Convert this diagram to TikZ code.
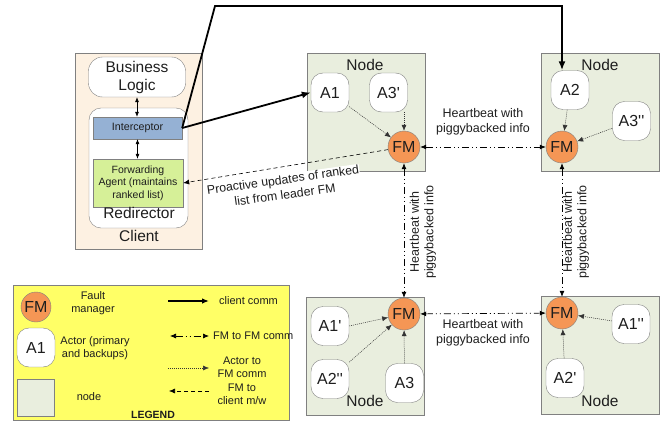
\documentclass[tikz,border=0pt]{standalone}
\usepackage{fontspec}
\setmainfont{Liberation Sans}
\newfontfamily\plainfont{Liberation Sans}
\usetikzlibrary{arrows.meta}
\definecolor{fmfill}{RGB}{245,150,85}
\definecolor{nodefill}{RGB}{233,238,222}
\definecolor{clientfill}{RGB}{253,241,226}
\definecolor{icptfill}{RGB}{149,177,212}
\definecolor{fwdfill}{RGB}{214,240,152}
\definecolor{legfill}{RGB}{255,255,102}
\definecolor{bordergray}{RGB}{128,128,128}
\definecolor{txt}{RGB}{30,30,30}
\tikzset{
  nodebox/.style={draw=bordergray, fill=nodefill, line width=0.8pt, minimum width=118pt, minimum height=118pt, inner sep=0pt},
  actor/.style={draw=bordergray, fill=white, rounded corners=12pt, minimum width=38pt, minimum height=39pt, inner sep=0pt, font=\plainfont\fontsize{16}{18}\selectfont, text=txt},
  fmgr/.style={circle, draw=bordergray, fill=fmfill, minimum size=32pt, inner sep=0pt, font=\fontsize{16}{18}\selectfont, text=txt},
  lbl/.style={text=txt, align=center, inner sep=1pt},
  big/.style={font=\fontsize{15.5}{17}\selectfont},
  leg/.style={font=\fontsize{11}{13}\selectfont},
  hb/.style={font=\fontsize{12.5}{14.5}\selectfont},
  clientcomm/.style={line width=1.8pt, -{Latex[length=9pt,width=7pt]}},
  fmcomm/.style={line width=0.7pt, {Latex[length=6pt,width=5pt]}-{Latex[length=6pt,width=5pt]}, dash pattern=on 7pt off 3pt on 1pt off 3pt on 1pt off 3pt},
  actcomm/.style={line width=0.5pt, draw=black!80, dash pattern=on 1pt off 1pt, -{Latex[length=6pt,width=5pt]}},
  fmclient/.style={line width=0.6pt, dash pattern=on 4pt off 3pt, -{Latex[length=6pt,width=5pt]}},
  blarrow/.style={line width=0.6pt, {Latex[length=5pt,width=4pt]}-{Latex[length=5pt,width=4pt]}},
}
\begin{document}
\begin{tikzpicture}[x=1pt,y=-1pt]
\useasboundingbox (0,0) rectangle (662,423);

% ---------------- Client ----------------
\node[draw=bordergray, fill=clientfill, line width=0.8pt, minimum width=127pt, minimum height=196pt, inner sep=0pt] (client) at (138.5,151) {};
\node[draw=bordergray, fill=white, rounded corners=14pt, minimum width=97pt, minimum height=40pt, inner sep=0pt, lbl, font=\fontsize{15.5}{18}\selectfont] (bl) at (137,77) {Business\\Logic};
\node[draw=bordergray, fill=white, rounded corners=12pt, minimum width=99pt, minimum height=120pt, inner sep=0pt] (redir) at (138.5,168) {};
\node[draw=bordergray, fill=icptfill, minimum width=89pt, minimum height=22pt, inner sep=0pt, lbl, font=\fontsize{10.7}{12}\selectfont] (icpt) at (137.5,128) {Interceptor};
\node[draw=bordergray, fill=fwdfill, minimum width=90pt, minimum height=48pt, inner sep=0pt, lbl, font=\fontsize{10.5}{12.5}\selectfont] (fwd) at (138,183) {Forwarding\\Agent (maintains\\ranked list)};
\node[lbl, big] (redirlbl) at (139,213) {Redirector};
\node[lbl, big] (clientlbl) at (139,236) {Client};
\draw[blarrow] (bl.south) -- (bl.south |- icpt.north);
\draw[blarrow] (icpt.south) -- (icpt.south |- fwd.north);

% ---------------- Nodes ----------------
\node[nodebox] (n1) at (366,112) {};
\node[nodebox] (n2) at (600.5,112) {};
\node[nodebox] (n3) at (365.5,356) {};
\node[nodebox] (n4) at (600.5,355) {};
\node[lbl, big] (n1lbl) at (365,65) {Node};
\node[lbl, big] (n2lbl) at (600,65) {Node};
\node[lbl, big] (n3lbl) at (365,401) {Node};
\node[lbl, big] (n4lbl) at (600,401) {Node};

\node[actor] (a1) at (330,92.5) {A1};
\node[actor] (a3p) at (388.5,92.5) {A3'};
\node[actor] (a2) at (570,90) {A2};
\node[actor] (a3pp) at (631.5,121) {A3''};
\node[actor] (a1p) at (330,326) {A1'};
\node[actor] (a2pp) at (330,379) {A2''};
\node[actor] (a3) at (404.5,383) {A3};
\node[actor] (a1pp) at (631,324) {A1''};
\node[actor] (a2p) at (565,378) {A2'};

\node[fmgr] (fm1) at (404,147) {FM};
\node[fmgr] (fm2) at (562,147) {FM};
\node[fmgr] (fm3) at (404,314) {FM};
\node[fmgr] (fm4) at (562,313) {FM};

% actor -> FM
\draw[actcomm] (a1) -- (fm1);
\draw[actcomm] (a3p.south -| fm1.north) -- (fm1.north);
\draw[actcomm] (a2) -- (fm2);
\draw[actcomm] (a3pp) -- (fm2);
\draw[actcomm] (a1p.east) -- (fm3);
\draw[actcomm] (a2pp) -- (fm3);
\draw[actcomm] (a3) -- (fm3);
\draw[actcomm] (a1pp) -- (fm4);
\draw[actcomm] (a2p) -- (fm4);

% FM <-> FM heartbeat
\draw[fmcomm] (fm1) -- (fm2);
\draw[fmcomm] (fm1) -- (fm3);
\draw[fmcomm] (fm2) -- (fm4);
\draw[fmcomm] (fm3) -- (fm4);
\node[lbl, hb] (hb12) at (483,122) {Heartbeat with\\piggybacked info};
\node[lbl, hb] (hb34) at (483,333) {Heartbeat with\\piggybacked info};
\node[lbl, hb, rotate=90] (hb13) at (423,232) {Heartbeat with\\piggybacked info};
\node[lbl, hb, rotate=90] (hb24) at (576,232) {Heartbeat with\\piggybacked info};

% FM -> client
\draw[fmclient] (fm1) -- (fwd.east);
\node[lbl, fill=white, font=\fontsize{12.3}{15}\selectfont, rotate=8, inner sep=0.5pt] (proact) at (284,187) {Proactive updates of ranked\\list from leader FM};

% client comm
\coordinate (tc1) at (215,6);
\coordinate (tc2) at (562,6);
\draw[clientcomm] (icpt.east) -- (a1.west);
\draw[clientcomm, line join=miter] (icpt.east) -- (tc1) -- (tc2) -- (tc2 |- a2.north);

% ---------------- Legend ----------------
\node[draw=bordergray, fill=legfill, line width=0.8pt, minimum width=276pt, minimum height=135pt, inner sep=0pt] (legend) at (151,352.5) {};
\node[fmgr, minimum size=30pt] (lfm) at (36,307) {FM};
\node[actor] (lact) at (36,347.5) {A1};
\node[draw=bordergray, fill=nodefill, line width=0.8pt, minimum width=37pt, minimum height=37pt, inner sep=0pt] (lnode) at (35.5,397.5) {};
\node[lbl, leg] (lfmtxt) at (93,303) {Fault\\manager};
\node[lbl, leg] (lacttxt) at (95,348) {Actor (primary\\and backups)};
\node[lbl, leg] (lnodetxt) at (89,397) {node};
\node[lbl, font=\bfseries\fontsize{10.5}{12}\selectfont] (legtitle) at (153,415) {LEGEND};

\coordinate (c1a) at (168,301);
\coordinate (c1b) at (209,301);
\coordinate (c2a) at (170,336);
\coordinate (c2b) at (209,336);
\coordinate (c3a) at (168,368);
\coordinate (c3b) at (209,368);
\coordinate (c4a) at (209,391);
\coordinate (c4b) at (169,391);
\draw[line width=1.3pt, -{Latex[length=7pt,width=5.5pt]}] (c1a) -- (c1b);
\draw[fmcomm] (c2a) -- (c2b);
\draw[actcomm] (c3a) -- (c3b);
\draw[fmclient] (c4a) -- (c4b);
\node[lbl, leg, anchor=west] (l1txt) at (218,301) {client comm};
\node[lbl, leg, anchor=west] (l2txt) at (212,336) {FM to FM comm};
\node[lbl, leg] (l3txt) at (242,367) {Actor to\\FM comm};
\node[lbl, leg] (l4txt) at (242,394) {FM to\\client m/w};
\end{tikzpicture}
\end{document}
